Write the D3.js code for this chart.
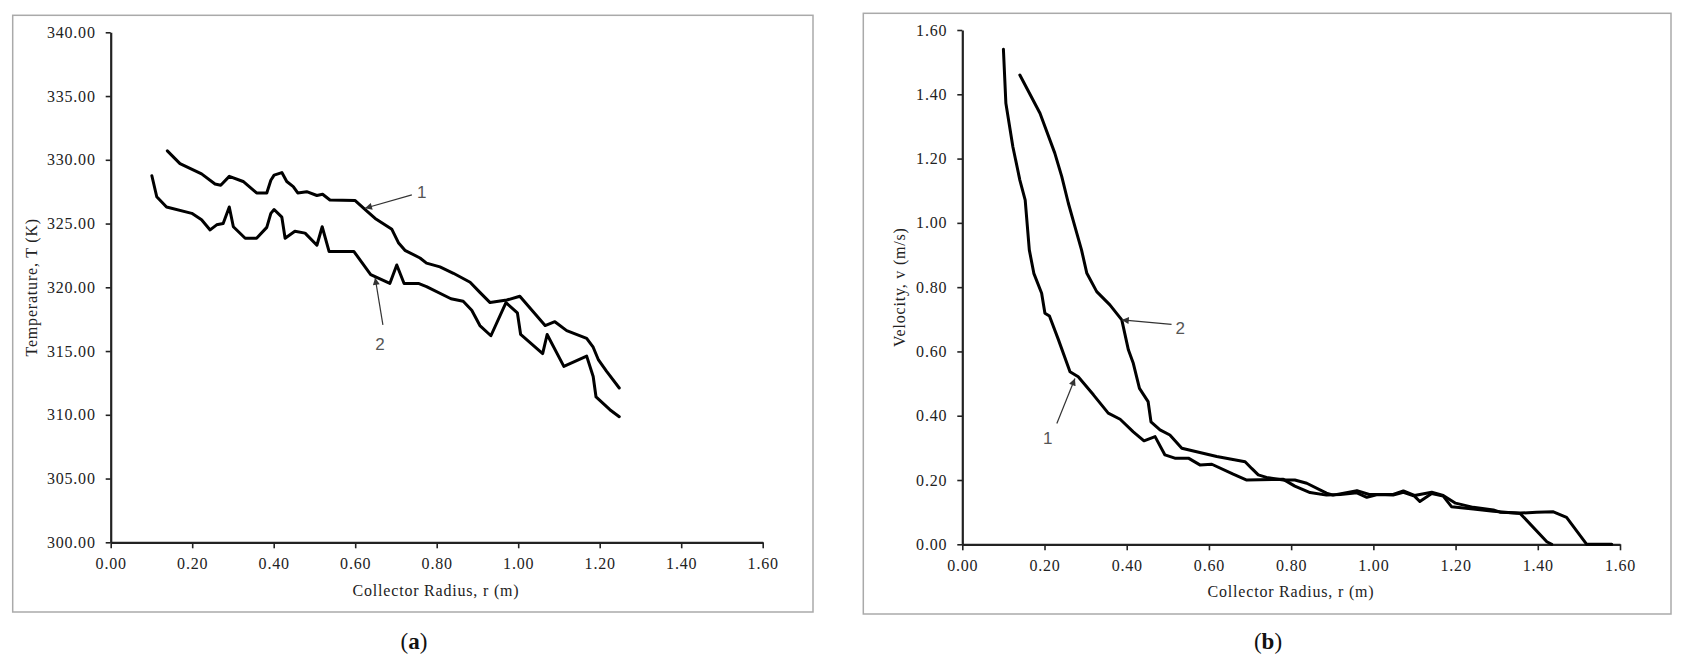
<!DOCTYPE html>
<html><head><meta charset="utf-8">
<script src="https://cdn.jsdelivr.net/npm/d3@7"></script>
<style>
body{margin:0;background:#fff;}
svg{display:block;}
svg text{font-family:'Liberation Serif','Times New Roman',serif;}
svg text.lbl{font-family:'Liberation Sans',Arial,sans-serif;}
</style></head><body>
<svg id="c" width="1685" height="663"></svg>
<script>
// ---------- Data: panel (a) Temperature ----------
const tempR1 = [0.139,0.170,0.223,0.256,0.270,0.291,0.325,0.358,0.383,0.393,0.401,0.420,0.432,0.448,0.459,0.481,0.506,0.520,0.538,0.600,0.628,0.649,0.690,0.706,0.722,0.759,0.775,0.808,0.841,0.882,0.906,0.931,0.972,1.004,1.066,1.090,1.119,1.168,1.184,1.197,1.217,1.248];
const tempT1 = [330.7,329.7,328.9,328.1,328.0,328.7,328.3,327.4,327.4,328.4,328.8,329.0,328.3,327.9,327.4,327.5,327.2,327.3,326.85,326.8,326.0,325.4,324.55,323.5,322.9,322.3,321.9,321.6,321.1,320.4,319.6,318.8,319.0,319.3,317.0,317.3,316.6,316.0,315.3,314.3,313.4,312.1];
const tempR2 = [0.101,0.113,0.137,0.199,0.223,0.244,0.260,0.276,0.291,0.301,0.330,0.358,0.383,0.393,0.401,0.420,0.428,0.452,0.477,0.506,0.519,0.536,0.597,0.638,0.685,0.702,0.720,0.755,0.775,0.835,0.865,0.886,0.906,0.933,0.970,0.998,1.006,1.060,1.071,1.112,1.168,1.184,1.191,1.225,1.248];
const tempT2 = [328.75,327.1,326.3,325.8,325.3,324.5,324.9,325.0,326.3,324.75,323.85,323.85,324.7,325.8,326.1,325.5,323.85,324.4,324.25,323.3,324.75,322.8,322.8,321.0,320.3,321.75,320.3,320.3,320.05,319.1,318.9,318.2,317.0,316.2,318.8,318.0,316.3,314.8,316.3,313.8,314.6,313.0,311.4,310.4,309.85];

// ---------- Data: panel (b) Velocity ----------
const velR1 = [0.100,0.106,0.123,0.140,0.153,0.163,0.174,0.193,0.201,0.212,0.234,0.262,0.282,0.319,0.355,0.384,0.416,0.442,0.469,0.493,0.517,0.550,0.578,0.607,0.659,0.692,0.781,0.809,0.846,0.886,0.920,0.960,0.984,1.010,1.048,1.073,1.100,1.113,1.142,1.170,1.190,1.243,1.292,1.357,1.422,1.434];
const velV1 = [1.540,1.372,1.237,1.133,1.071,0.916,0.843,0.781,0.719,0.710,0.636,0.537,0.521,0.465,0.408,0.389,0.350,0.322,0.335,0.278,0.268,0.268,0.247,0.249,0.218,0.200,0.202,0.181,0.161,0.153,0.155,0.160,0.146,0.155,0.153,0.162,0.150,0.133,0.158,0.150,0.117,0.110,0.103,0.096,0.008,0.000];
const velR2 = [0.140,0.189,0.225,0.242,0.258,0.274,0.290,0.303,0.327,0.359,0.388,0.404,0.416,0.431,0.452,0.459,0.481,0.505,0.534,0.619,0.688,0.704,0.720,0.740,0.781,0.809,0.838,0.886,0.902,0.960,0.990,1.048,1.073,1.100,1.142,1.170,1.200,1.243,1.292,1.308,1.357,1.397,1.438,1.470,1.519,1.580];
const velV2 = [1.460,1.341,1.217,1.144,1.061,0.988,0.916,0.843,0.786,0.745,0.698,0.605,0.563,0.485,0.444,0.381,0.356,0.340,0.299,0.273,0.257,0.236,0.216,0.208,0.200,0.200,0.190,0.159,0.153,0.167,0.155,0.155,0.166,0.152,0.162,0.152,0.128,0.115,0.107,0.100,0.097,0.100,0.101,0.084,0.000,0.000];

// ---------- Tick labels ----------
const radiusTicks = [0,0.2,0.4,0.6,0.8,1.0,1.2,1.4,1.6];
const tempTicks = [300,305,310,315,320,325,330,335,340];
const velTicks = [0,0.2,0.4,0.6,0.8,1.0,1.2,1.4,1.6];

// annotation anchors in data units: [tailX, tailY, headX, headY, labelX, labelY, label]
const annA = [[0.739,327.25,0.624,326.2,0.763,327.5,"1"],[0.668,317.06,0.649,320.74,0.661,315.6,"2"]];
const annB = [[0.509,0.684,0.388,0.698,0.530,0.672,"2"],[0.230,0.376,0.274,0.516,0.208,0.330,"1"]];

const svg = d3.select("#c");
const serif = "'Liberation Serif','Times New Roman',serif";

const defs = svg.append("defs");
defs.append("marker").attr("id","ah").attr("viewBox","0 0 10 10").attr("refX",10).attr("refY",5)
  .attr("markerWidth",9).attr("markerHeight",7).attr("markerUnits","userSpaceOnUse").attr("orient","auto")
  .append("path").attr("d","M0,0 L10,5 L0,10 Z").attr("fill","#333");

function panel(cfg){
  const g = svg.append("g");
  g.append("rect").attr("x",cfg.frame[0]).attr("y",cfg.frame[1]).attr("width",cfg.frame[2]-cfg.frame[0]).attr("height",cfg.frame[3]-cfg.frame[1])
    .attr("fill","none").attr("stroke","#aaa").attr("stroke-width",1.5);
  const x = d3.scaleLinear().domain([0,1.6]).range(cfg.xr);
  const y = d3.scaleLinear().domain(cfg.yd).range(cfg.yr);
  const xa = g.append("g").attr("transform",`translate(0,${cfg.yr[0]})`)
    .call(d3.axisBottom(x).tickValues(radiusTicks).tickFormat(d3.format(".2f")).tickSize(6).tickSizeOuter(0).tickPadding(9));
  const ya = g.append("g").attr("transform",`translate(${cfg.xr[0]},0)`)
    .call(d3.axisLeft(y).tickValues(cfg.yt).tickFormat(d3.format(".2f")).tickSize(5).tickSizeOuter(0).tickPadding(10));
  [xa,ya].forEach(a=>{
    a.attr("font-family",serif).attr("font-size",16);
    a.select(".domain").attr("stroke","#222").attr("stroke-width",2.2);
    a.selectAll(".tick line").attr("stroke","#222").attr("stroke-width",1.6);
    a.selectAll("text").attr("font-family",serif).attr("font-size",16).attr("fill","#222").attr("letter-spacing","0.8px");
  });
  g.append("text").attr("x",cfg.xt[0]).attr("y",cfg.xt[1]).attr("text-anchor","middle")
    .attr("font-family",serif).attr("font-size",16).attr("letter-spacing","0.8px").attr("fill","#222").text("Collector Radius, r (m)");
  g.append("text").attr("transform",`translate(${cfg.ytp[0]},${(cfg.yr[0]+cfg.yr[1])/2}) rotate(-90)`).attr("text-anchor","middle")
    .attr("font-family",serif).attr("font-size",16).attr("letter-spacing","0.8px").attr("fill","#222").text(cfg.ytitle);
  const line = d3.line().x(d=>x(d[0])).y(d=>y(d[1]));
  cfg.series.forEach(s=>{
    g.append("path").datum(d3.zip(s[0],s[1])).attr("d",line).attr("fill","none").attr("stroke","#000")
      .attr("stroke-width",3).attr("stroke-linejoin","round").attr("stroke-linecap","round");
  });
  cfg.ann.forEach(a=>{
    g.append("line").attr("x1",x(a[0])).attr("y1",y(a[1])).attr("x2",x(a[2])).attr("y2",y(a[3]))
      .attr("stroke","#333").attr("stroke-width",1.2).attr("marker-end","url(#ah)");
    g.append("text").attr("class","lbl").attr("x",x(a[4])).attr("y",y(a[5])).attr("dy","0.36em").attr("text-anchor","middle")
      .attr("font-size",17).attr("fill","#555").text(a[6]);
  });
  const cap = g.append("text").attr("x",cfg.cap[0]).attr("y",cfg.cap[1]).attr("text-anchor","middle")
    .attr("font-family",serif).attr("font-size",23).attr("fill","#111");
  cap.append("tspan").text("(");
  cap.append("tspan").attr("font-weight","bold").text(cfg.capL);
  cap.append("tspan").text(")");
}

panel({frame:[12.7,15.3,813,612], xr:[110.7,762.7], yd:[300,340], yr:[542.3,32.3], yt:tempTicks,
  xt:[436,596], ytp:[37], ytitle:"Temperature, T (K)",
  series:[[tempR1,tempT1],[tempR2,tempT2]], ann:annA, cap:[414,649], capL:"a"});
panel({frame:[863.3,13.3,1671,614], xr:[962.3,1620], yd:[0,1.6], yr:[544.3,30], yt:velTicks,
  xt:[1291,597], ytp:[905], ytitle:"Velocity, v (m/s)",
  series:[[velR1,velV1],[velR2,velV2]], ann:annB, cap:[1268,649], capL:"b"});
</script>
</body></html>
